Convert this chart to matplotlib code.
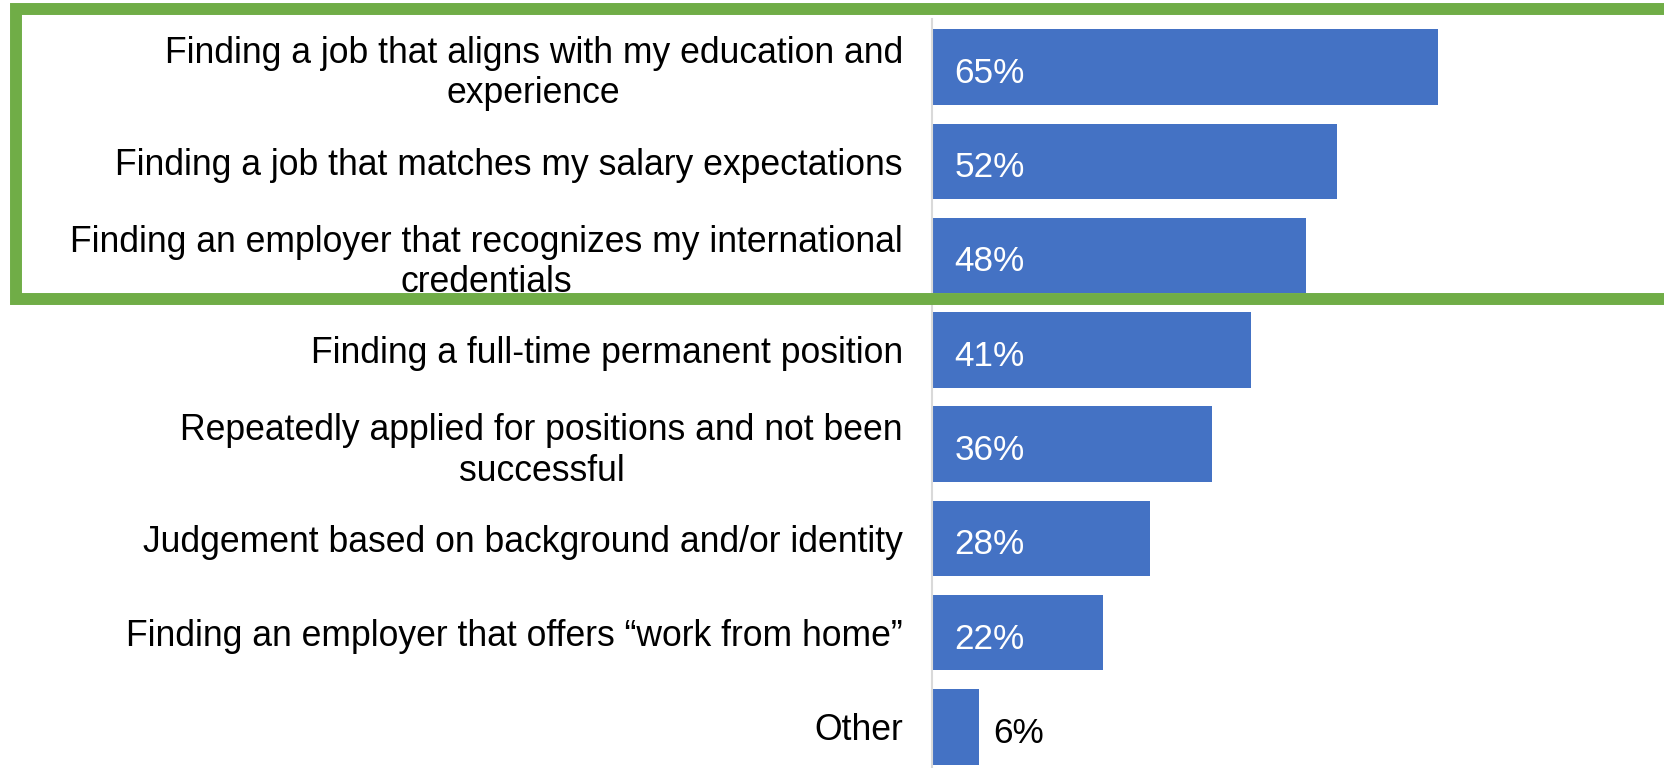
import matplotlib.pyplot as plt
from matplotlib.lines import Line2D

# Survey responses, top to bottom
categories = [
    "Finding a job that aligns with my education and\nexperience",
    "Finding a job that matches my salary expectations",
    "Finding an employer that recognizes my international\ncredentials",
    "Finding a full-time permanent position",
    "Repeatedly applied for positions and not been\nsuccessful",
    "Judgement based on background and/or identity",
    "Finding an employer that offers \u201cwork from home\u201d",
    "Other",
]
values = [65, 52, 48, 41, 36, 28, 22, 6]

bar_color = "#4472C4"
box_color = "#70AD47"

plt.rcParams["font.family"] = ["Liberation Sans", "DejaVu Sans"]


def main():
    fig = plt.figure(figsize=(16.64, 7.68), dpi=100)
    ax = fig.add_axes([932 / 1664, 0.0, 1 - 932 / 1664, 1 - 19 / 768])

    positions = list(range(len(categories)))
    ax.barh(positions, values, height=0.8, color=bar_color)

    ax.set_xlim(0, 94)
    ax.set_ylim(7.435, -0.51)

    # Value labels: white inside long bars, black beside the short one
    for pos, val in zip(positions, values):
        if val >= 10:
            ax.text(2.9, pos + 0.03, f"{val}%", va="center_baseline", ha="left",
                    color="white", fontsize=25.3)
        else:
            ax.text(val + 1.9, pos + 0.03, f"{val}%", va="center_baseline",
                    ha="left", color="black", fontsize=25.3)

    ax.set_yticks(positions)
    ax.set_yticklabels(categories, fontsize=25.6, multialignment="center",
                       linespacing=1.2)
    ax.tick_params(axis="y", length=0, pad=21)
    ax.set_xticks([])

    for side in ["top", "right", "bottom"]:
        ax.spines[side].set_visible(False)
    ax.spines["left"].set_color("#D9D9D9")
    ax.spines["left"].set_linewidth(1.5)

    # Green highlight frame around the top three answers (open to the right)
    left = 16 / 1664
    top = 1 - 9 / 768
    bottom = 1 - 299 / 768
    frame = Line2D([1.02, left, left, 1.02], [top, top, bottom, bottom],
                   transform=fig.transFigure, color=box_color,
                   linewidth=8.6, solid_joinstyle="miter")
    fig.lines.append(frame)

    fig.savefig("out.png", dpi=100)


if __name__ == "__main__":
    main()
